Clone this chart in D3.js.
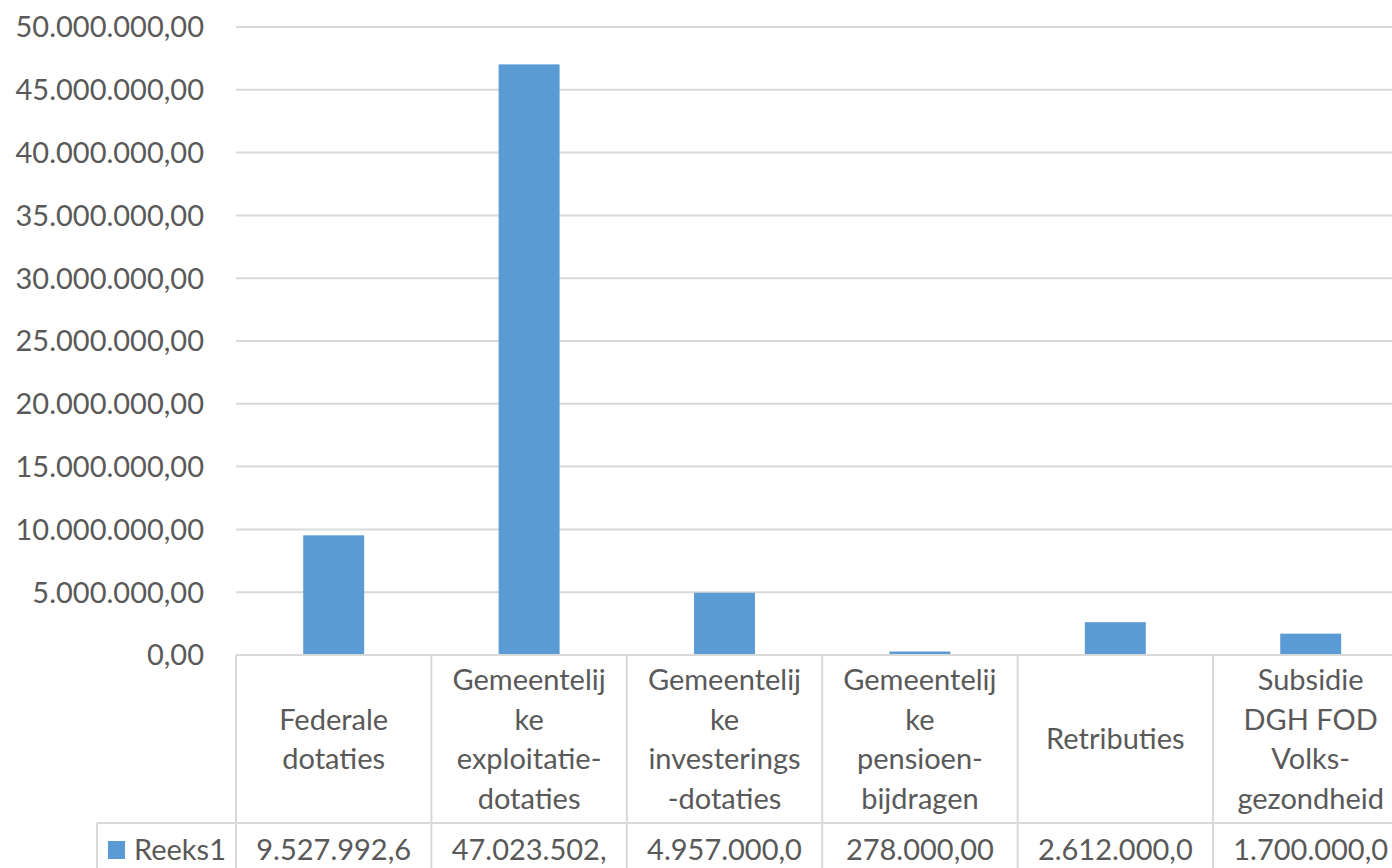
<!DOCTYPE html>
<html>
<head>
<meta charset="utf-8">
<script src="https://cdn.jsdelivr.net/npm/d3@7"></script>
<style>
  body { margin: 0; background: #fff; }
  text { font-family: Lato, 'Open Sans', sans-serif; fill: #595959; }
</style>
</head>
<body>
<div id="chart"></div>
<script>
// data
let categories = [
  'Federale\ndotaties',
  'Gemeentelij\nke\nexploitatie-\ndotaties',
  'Gemeentelij\nke\ninvesterings\n-dotaties',
  'Gemeentelij\nke\npensioen-\nbijdragen',
  'Retributies',
  'Subsidie\nDGH FOD\nVolks-\ngezondheid'
]
let values = [9527992.6, 47023502, 4957000, 278000, 2612000, 1700000]
let seriesName = 'Reeks1'
let yTicks = [0, 5e6, 10e6, 15e6, 20e6, 25e6, 30e6, 35e6, 40e6, 45e6, 50e6]

let width = 1392
let height = 868
let fontSize = 29
let gridColor = '#d9d9d9'
let barColor = '#5b9bd5'

let plot = { left: 236, top: 27, bottom: 655 }
let catW = 195.4
let tableMid = 823

let svg = d3
  .select('#chart')
  .append('svg')
  .attr('width', width)
  .attr('height', height)

let x = d3
  .scaleBand()
  .domain(d3.range(categories.length))
  .range([plot.left, plot.left + catW * categories.length])
  .paddingInner(0.688)
  .paddingOuter(0.344)

let y = d3.scaleLinear().domain([0, 50e6]).range([plot.bottom, plot.top])

let nl = d3.formatLocale({ decimal: ',', thousands: '.', grouping: [3], currency: ['€', ''] })
let fmt = nl.format(',.2f')

// gridlines
svg
  .append('g')
  .selectAll('line')
  .data(yTicks.slice(1))
  .join('line')
  .attr('x1', plot.left)
  .attr('x2', width)
  .attr('y1', d => y(d))
  .attr('y2', d => y(d))
  .attr('stroke', gridColor)
  .attr('stroke-width', 2)

// y labels
svg
  .append('g')
  .selectAll('text')
  .data(yTicks)
  .join('text')
  .attr('x', 204)
  .attr('y', d => y(d))
  .attr('dy', '0.36em')
  .attr('text-anchor', 'end')
  .attr('font-size', fontSize)
  .text(d => fmt(d))

// bars
svg
  .append('g')
  .selectAll('rect')
  .data(values)
  .join('rect')
  .attr('x', (d, i) => x(i))
  .attr('width', x.bandwidth())
  .attr('y', d => y(d))
  .attr('height', d => y(0) - y(d))
  .attr('fill', barColor)

// data table
let table = svg.append('g').attr('stroke', gridColor).attr('stroke-width', 2)
table
  .append('line')
  .attr('x1', plot.left).attr('x2', width)
  .attr('y1', plot.bottom).attr('y2', plot.bottom)
table
  .append('line')
  .attr('x1', 97).attr('x2', width)
  .attr('y1', tableMid).attr('y2', tableMid)
table
  .append('line')
  .attr('x1', 97).attr('x2', 97)
  .attr('y1', tableMid).attr('y2', height)
table
  .selectAll('.vline')
  .data(d3.range(categories.length + 1))
  .join('line')
  .attr('class', 'vline')
  .attr('x1', i => plot.left + i * catW)
  .attr('x2', i => plot.left + i * catW)
  .attr('y1', plot.bottom)
  .attr('y2', height)

// category labels
let lineH = 39.5
let cellMid = (plot.bottom + tableMid) / 2
svg
  .append('g')
  .selectAll('text')
  .data(categories)
  .join('text')
  .attr('text-anchor', 'middle')
  .attr('font-size', fontSize)
  .each(function(d, i) {
    let lines = d.split('\n')
    let cx = plot.left + (i + 0.5) * catW
    let t = d3.select(this)
    lines.forEach((ln, j) => {
      t.append('tspan')
        .attr('x', cx)
        .attr('y', cellMid + (j - (lines.length - 1) / 2) * lineH)
        .attr('dy', '0.36em')
        .text(ln)
    })
  })

// value row, clipped like Excel
let rowY = 850
svg
  .append('g')
  .selectAll('text')
  .data(values)
  .join('text')
  .attr('x', (d, i) => plot.left + (i + 0.5) * catW)
  .attr('y', rowY)
  .attr('dy', '0.36em')
  .attr('text-anchor', 'middle')
  .attr('font-size', fontSize)
  .each(function(d) {
    let t = d3.select(this)
    let s = fmt(d)
    t.text(s)
    while (this.getComputedTextLength() > 168 && s.length > 1) {
      s = s.slice(0, -1)
      t.text(s)
    }
  })

// legend key
svg
  .append('rect')
  .attr('x', 108)
  .attr('y', 841)
  .attr('width', 17)
  .attr('height', 18)
  .attr('fill', barColor)
svg
  .append('text')
  .attr('x', 134)
  .attr('y', rowY)
  .attr('dy', '0.36em')
  .attr('font-size', fontSize)
  .text(seriesName)
</script>
</body>
</html>
